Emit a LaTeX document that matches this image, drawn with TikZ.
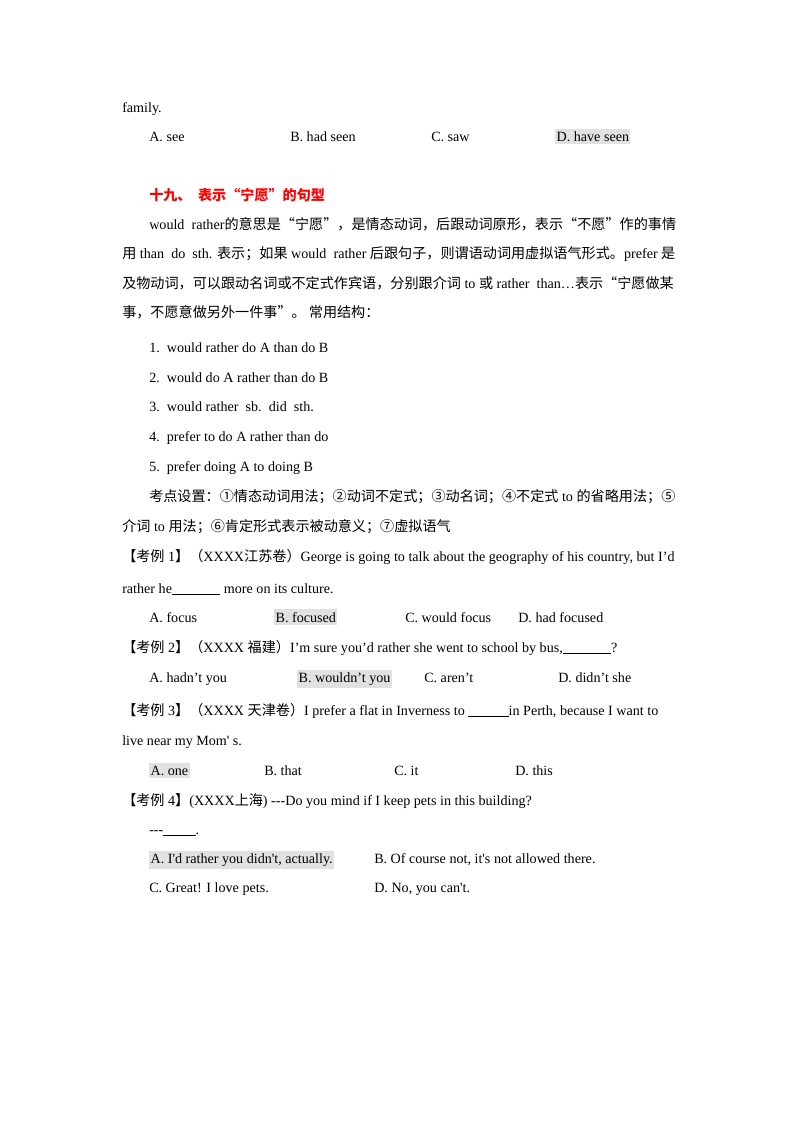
\documentclass[tikz,border=0pt]{standalone}
\usepackage{fontspec}
\setmainfont{Liberation Serif}
\newfontfamily\cjk{Noto Sans CJK SC}
\newcommand{\zh}[1]{{\cjk #1}}
\newcommand{\ap}{\textquotesingle}
\definecolor{hl}{RGB}{225,225,225}
\begin{document}
\begin{tikzpicture}[x=0.744pt,y=-0.744pt,
  t/.style={anchor=base west,inner sep=0pt,font=\fontsize{10.5pt}{12pt}\selectfont},
  h/.style={t,fill=hl,inner ysep=2pt,inner xsep=1pt}]
\useasboundingbox (0,0) rectangle (800,1132);
\node[t] (l1) at (122,112) {family.};
\node[t] at (149,141) {A. see};
\node[t] at (290,141) {B. had seen};
\node[t] at (431,141) {C. saw};
\node[h] at (555,141) {D. have seen};
\node[t,text=red,font=\fontsize{10.5pt}{12pt}\selectfont\cjk\bfseries] at (149,200) {十九、\ \ 表示“宁愿”的句型};
\node[t] at (149,229) {would\ \ rather\zh{的意思是“宁愿”，是情态动词，后跟动词原形，表示“不愿”作的事情}};
\node[t] at (122,258) {\zh{用} than\ \ do\ \ sth. \zh{表示；如果} would\ \ rather \zh{后跟句子，则谓语动词用虚拟语气形式。}prefer \zh{是}};
\node[t] at (122,288) {\zh{及物动词，可以跟动名词或不定式作宾语，分别跟介词} to \zh{或} rather\ \ than…\zh{表示“宁愿做某}};
\node[t] at (122,317) {\zh{事，不愿意做另外一件事”。\ 常用结构：}};
\node[t] at (149,352) {1.\ \ would rather do A than do B};
\node[t] at (149,382) {2.\ \ would do A rather than do B};
\node[t] at (149,411) {3.\ \ would rather\ \ sb.\ \ did\ \ sth.};
\node[t] at (149,441) {4.\ \ prefer to do A rather than do};
\node[t] at (149,471) {5.\ \ prefer doing A to doing B};
\node[t] at (149,501) {\zh{考点设置：①情态动词用法；②动词不定式；③动名词；④不定式} to \zh{的省略用法；⑤}};
\node[t] at (122,531) {\zh{介词} to \zh{用法；⑥肯定形式表示被动意义；⑦虚拟语气}};
\node[t] at (122,561) {\zh{【考例} 1\zh{】（}XXXX\zh{江苏卷）}George is going to talk about the geography of his country, but I’d};
\node[t] at (122,593) {rather he\rule[-1pt]{36pt}{0.4pt} more on its culture.};
\node[t] at (149,622) {A. focus};
\node[h] at (274,622) {B. focused};
\node[t] at (405,622) {C. would focus};
\node[t] at (518,622) {D. had focused};
\node[t] at (122,652) {\zh{【考例} 2\zh{】（}XXXX \zh{福建）}I’m sure you’d rather she went to school by bus,\rule[-1pt]{36pt}{0.4pt}?};
\node[t] at (149,682) {A. hadn’t you};
\node[h] at (297,682) {B. wouldn’t you\ };
\node[t] at (424,682) {C. aren’t};
\node[t] at (558,682) {D. didn’t she};
\node[t] at (122,715) {\zh{【考例} 3\zh{】（}XXXX \zh{天津卷）}I prefer a flat in Inverness to \rule[-1pt]{30pt}{0.4pt}in Perth, because I want to};
\node[t] at (122,745) {live near my Mom\ap\ s.};
\node[h] at (149,775) {A. one};
\node[t] at (264,775) {B. that};
\node[t] at (394,775) {C. it};
\node[t] at (515,775) {D. this};
\node[t] at (122,805) {\zh{【考例} 4\zh{】}(XXXX\zh{上海}) {-}{-}{-}Do you mind if I keep pets in this building?};
\node[t] at (149,834) {{-}{-}{-}\rule[-1pt]{24pt}{0.4pt}.};
\node[h] at (149,863) {A. I\ap d rather you didn\ap t, actually.};
\node[t] at (374,863) {B. Of course not, it\ap s not allowed there.};
\node[t] at (149,892) {C. Great! I love pets.};
\node[t] at (374,892) {D. No, you can\ap t.};
\end{tikzpicture}
\end{document}
